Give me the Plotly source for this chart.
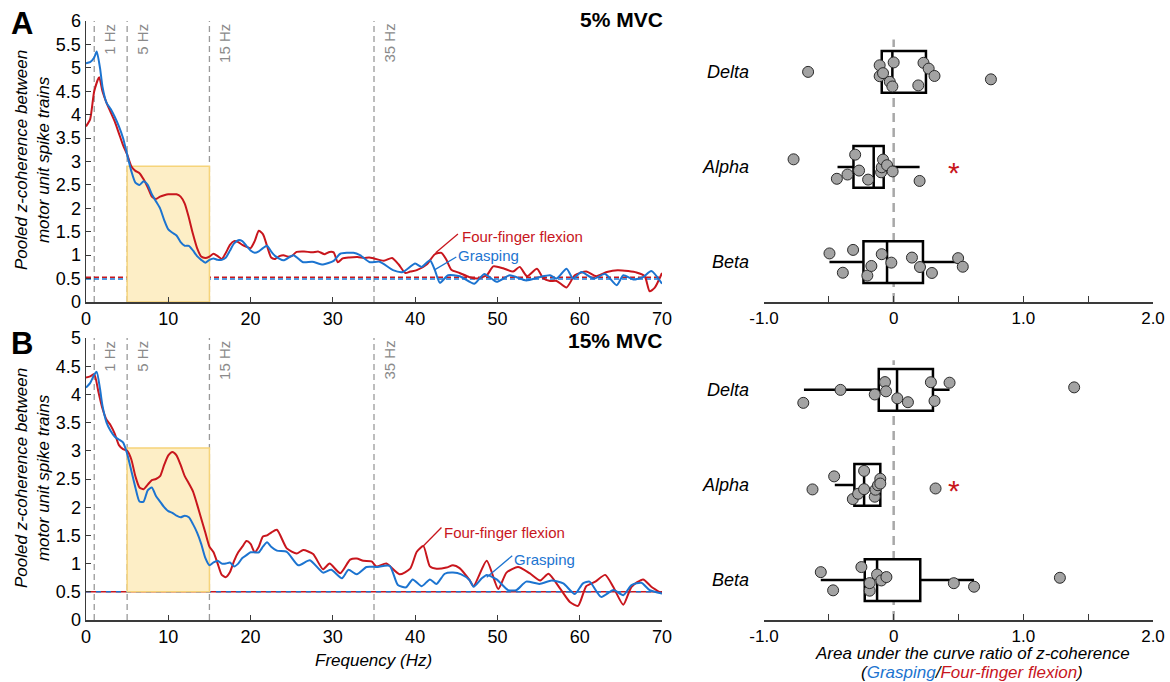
import plotly.graph_objects as go

W, H = 1170, 682

# ---------------- Panel A (5% MVC) : pooled z-coherence ----------------
freq_A_flex = [0, 0.5, 1, 1.6, 2, 2.5, 3, 3.5, 4, 4.5, 5, 5.5, 6, 6.5, 7, 7.5, 8, 8.5, 9, 9.5,
               10, 10.5, 11, 11.5, 12, 12.5, 13, 13.5, 14, 14.5, 15, 15.5, 16, 16.5, 17, 17.5,
               18, 18.5, 19, 19.5, 20, 20.5, 21, 21.5, 22, 22.5, 23, 23.5, 24, 24.5, 25, 25.6,
               26.5, 27.5, 28.2, 29, 29.6, 30.1, 30.6, 31.2, 32, 33, 33.8, 34.4, 35, 36.2, 37.2,
               38, 38.8, 39.4, 40.2, 41.4, 42.4, 43.2, 43.8, 44.4, 45.4, 46.6, 47.5, 48.7, 49.5,
               50.7, 51.9, 52.7, 53.6, 54.8, 55.6, 56.4, 57.2, 58.4, 59.4, 60.8, 62.0, 63.3,
               64.6, 65.9, 66.9, 67.9, 68.5, 69.1, 70]
coh_A_flex = [3.75, 3.9, 4.5, 4.8, 4.5, 4.25, 4.05, 3.85, 3.6, 3.35, 3.15, 2.9, 2.8, 2.75, 2.62,
              2.45, 2.25, 2.2, 2.25, 2.28, 2.3, 2.3, 2.3, 2.25, 2.1, 1.8, 1.45, 1.15, 0.97, 0.94,
              0.97, 1.03, 0.98, 0.92, 1.05, 1.22, 1.3, 1.28, 1.22, 1.18, 1.15, 1.3, 1.52, 1.45,
              1.2, 0.95, 0.92, 0.98, 1.0, 0.97, 0.98, 1.07, 1.08, 1.06, 1.08, 1.02, 1.07, 1.06,
              0.85, 0.93, 0.95, 0.96, 0.94, 0.95, 0.93, 0.88, 0.94, 0.8, 0.62, 0.65, 0.68, 0.8,
              1.02, 1.05, 0.9, 0.69, 0.62, 0.53, 0.5, 0.57, 0.76, 0.72, 0.65, 0.75, 0.55, 0.71,
              0.5, 0.45, 0.45, 0.31, 0.57, 0.65, 0.55, 0.64, 0.68, 0.66, 0.63, 0.55, 0.23, 0.3, 0.62]

freq_A_grasp = [0, 0.5, 1, 1.3, 1.7, 2, 2.5, 3, 3.5, 4, 4.5, 5, 5.5, 6, 6.5, 7, 7.5, 8, 8.5, 9,
                9.5, 10, 10.5, 11, 11.5, 12, 12.5, 13, 13.5, 14, 14.5, 15, 15.5, 16, 16.5, 17,
                17.5, 18, 18.5, 19, 19.5, 20, 20.5, 21, 21.5, 22, 22.5, 23, 24, 25.2, 26.4, 27.5,
                28.8, 30.1, 30.9, 32.5, 33.3, 34.5, 35.7, 37.3, 38.5, 40, 40.8, 41.8, 42.4, 43.0,
                44.0, 45.4, 47.2, 48.4, 49.9, 51.5, 53.5, 55.1, 56.4, 57.2, 58.4, 59.2, 60.2,
                61.7, 63.1, 64.5, 65.3, 66.5, 67.7, 68.7, 70]
coh_A_grasp = [5.1, 5.12, 5.22, 5.35, 5.0, 4.6, 4.25, 4.12, 3.95, 3.75, 3.5, 3.15, 2.8, 2.55, 2.5,
               2.58, 2.5, 2.3, 2.15, 2.0, 1.75, 1.55, 1.48, 1.42, 1.28, 1.2, 1.2, 1.1, 0.98, 0.9,
               0.84, 0.9, 0.93, 0.9, 0.9, 0.95, 1.1, 1.25, 1.32, 1.3, 1.2, 1.1, 1.05, 1.08, 1.15,
               1.2, 1.08, 0.98, 0.89, 1.0, 0.85, 0.86, 0.8, 0.88, 1.03, 1.05, 1.0, 0.85, 0.86,
               0.68, 0.64, 0.82, 0.75, 0.89, 0.68, 0.41, 0.57, 0.55, 0.39, 0.6, 0.43, 0.57, 0.46,
               0.53, 0.57, 0.5, 0.71, 0.5, 0.64, 0.5, 0.6, 0.36, 0.57, 0.48, 0.53, 0.66, 0.39]

# ---------------- Panel B (15% MVC) ----------------
freq_B_flex = [0, 0.5, 1, 1.5, 2, 2.5, 3, 3.5, 4, 4.5, 5, 5.5, 6, 6.5, 7, 7.5, 8, 8.5, 9, 9.5,
               10, 10.5, 11, 11.5, 12, 12.5, 13, 13.5, 14, 14.5, 15, 15.5, 16, 16.5, 17, 17.5,
               18, 18.5, 19, 19.5, 20, 20.5, 21, 21.5, 22, 22.5, 23.2, 24.4, 25.6, 26.4, 27.6,
               28.8, 29.6, 30.9, 32.1, 32.9, 33.7, 34.7, 35.3, 36.5, 38.1, 39.4, 40.2, 41.0,
               41.8, 42.6, 43.8, 44.6, 45.4, 46.6, 47.1, 48.7, 50.1, 51.1, 52.5, 53.9, 55.2,
               56.2, 57.6, 58.8, 59.8, 60.8, 61.9, 63.1, 64.1, 65.3, 66.3, 67.7, 68.7, 70]
coh_B_flex = [4.3, 4.32, 4.36, 4.05, 3.75, 3.55, 3.45, 3.3, 3.1, 3.03, 3.0, 2.85, 2.55, 2.35, 2.32,
              2.4, 2.48, 2.5, 2.55, 2.75, 2.92, 2.98, 2.92, 2.75, 2.55, 2.42, 2.28, 2.05, 1.8,
              1.55, 1.3, 1.2, 1.0, 0.8, 0.76, 0.85, 1.05, 1.2, 1.3, 1.4, 1.35, 1.2, 1.3, 1.48,
              1.5, 1.55, 1.6, 1.27, 1.18, 1.24, 1.17, 0.9, 1.0, 0.83, 1.07, 1.09, 1.05, 1.04,
              0.95, 1.0, 0.81, 0.91, 1.21, 1.31, 0.95, 0.91, 0.93, 0.97, 0.92, 0.71, 0.6, 1.05,
              0.55, 0.84, 0.94, 0.83, 0.7, 0.82, 0.56, 0.32, 0.25, 0.6, 0.68, 0.8, 0.58, 0.27,
              0.59, 0.72, 0.59, 0.47]

freq_B_grasp = [0, 0.5, 1, 1.3, 1.7, 2, 2.5, 3, 3.5, 4, 4.5, 5, 5.5, 6, 6.5, 7, 7.5, 8, 8.5, 9,
                9.5, 10, 10.5, 11, 11.5, 12, 12.5, 13, 13.5, 14, 14.5, 15, 15.5, 16, 16.5, 17,
                17.5, 18, 18.5, 19, 19.5, 20, 20.5, 21, 21.5, 22, 22.5, 23.2, 24.4, 25.8, 27.2,
                28.8, 29.8, 31.1, 31.9, 32.9, 34.1, 35.3, 36.9, 37.9, 38.9, 39.7, 40.8, 41.8,
                42.6, 43.6, 44.6, 45.6, 46.6, 47.1, 48.1, 48.7, 49.9, 51.3, 52.3, 53.5, 55.1,
                56.6, 58, 59.4, 60.4, 61.2, 62.6, 64.1, 65.3, 66.3, 67.5, 68.5, 70]
coh_B_grasp = [4.12, 4.2, 4.35, 4.4, 4.1, 3.8, 3.5, 3.35, 3.25, 3.2, 3.15, 2.95, 2.65, 2.35, 2.1,
               2.1, 2.3, 2.35, 2.2, 2.1, 2.0, 1.93, 1.9, 1.85, 1.82, 1.85, 1.82, 1.7, 1.55, 1.35,
               1.1, 0.97, 1.02, 1.05, 1.0, 1.0, 1.02, 0.95, 1.0, 1.1, 1.15, 1.2, 1.2, 1.2, 1.3,
               1.38, 1.3, 1.23, 1.21, 0.97, 1.06, 0.84, 0.89, 0.74, 0.89, 0.81, 0.94, 0.94, 0.96,
               0.62, 0.58, 0.72, 0.6, 0.72, 0.64, 0.82, 0.84, 0.81, 0.71, 0.59, 0.74, 0.8, 0.72,
               0.53, 0.53, 0.68, 0.64, 0.7, 0.65, 0.46, 0.65, 0.68, 0.41, 0.53, 0.44, 0.62, 0.66,
               0.53, 0.47]

# significance thresholds
sig_A_flex, sig_A_grasp = 0.53, 0.49
sig_B_flex, sig_B_grasp = 0.5, 0.5

# frequency band markers
band_edges_hz = [1, 5, 15, 35]
band_edge_labels = ["1 Hz", "5 Hz", "15 Hz", "35 Hz"]
alpha_band_hz = [5, 15]
alpha_shade_A = [0, 2.9]
alpha_shade_B = [0.5, 3.05]

# ---------------- AUC ratio box plots ----------------
bands = ["Delta", "Alpha", "Beta"]

auc5_delta = [-0.66, -0.108, -0.082, -0.01, -0.108, -0.03, 0.0, 0.19, 0.27, 0.23, 0.315, 0.75]
auc5_alpha = [-0.772, -0.297, -0.267, -0.092, -0.051, -0.197, -0.438, -0.356, -0.082, -0.008, -0.097, 0.2]
auc5_beta = [-0.495, -0.313, -0.172, 0.141, 0.295, 0.533, -0.392, -0.203, -0.092, -0.018, 0.203, 0.497]
q1_5 = [-0.092, -0.31, -0.233]
med_5 = [-0.01, -0.154, -0.051]
q3_5 = [0.249, -0.077, 0.226]
lo_5 = [-0.11, -0.433, -0.495]
hi_5 = [0.315, 0.2, 0.533]

auc15_delta = [-0.697, -0.41, -0.146, -0.067, 0.11, 0.287, 0.431, 0.028, -0.059, 0.315, 1.392]
auc15_alpha = [-0.626, -0.274, -0.315, -0.103, -0.228, -0.146, -0.459, -0.228, -0.103, -0.121, 0.323, -0.14]
auc15_beta = [-0.467, -0.185, -0.128, -0.056, 0.62, -0.562, -0.249, -0.185, -0.095, 0.464, 1.282]
q1_15 = [-0.115, -0.303, -0.223]
med_15 = [0.026, -0.228, -0.128]
q3_15 = [0.303, -0.103, 0.205]
lo_15 = [-0.692, -0.454, -0.562]
hi_15 = [0.431, -0.079, 0.62]

signif_band = "Alpha"
signif_x = 0.467

# ---------------- styling ----------------
RED = "#c8161d"
BLUE = "#1c74d0"
AX = "#3a3a3a"
FONT = "Liberation Sans, Arial, sans-serif"


def px_x(p):
    return p / W


def px_y(p):
    return 1 - p / H


fig = go.Figure()

# coherence curves
for xs, ys, col, ax in [
    (freq_A_flex, coh_A_flex, RED, ("x", "y")),
    (freq_A_grasp, coh_A_grasp, BLUE, ("x", "y")),
    (freq_B_flex, coh_B_flex, RED, ("x2", "y2")),
    (freq_B_grasp, coh_B_grasp, BLUE, ("x2", "y2")),
]:
    fig.add_trace(go.Scatter(x=xs, y=ys, mode="lines", xaxis=ax[0], yaxis=ax[1],
                             line=dict(color=col, width=2, shape="spline", smoothing=0.6),
                             showlegend=False, hoverinfo="skip"))

# box plots
BOXW = 0.44
for (pts, q1, med, q3, lo, hi, xa, ya) in [
    ((auc5_delta, auc5_alpha, auc5_beta), q1_5, med_5, q3_5, lo_5, hi_5, "x3", "y3"),
    ((auc15_delta, auc15_alpha, auc15_beta), q1_15, med_15, q3_15, lo_15, hi_15, "x4", "y4"),
]:
    fig.add_trace(go.Box(y=bands, q1=q1, median=med, q3=q3, lowerfence=lo, upperfence=hi,
                         orientation="h", width=BOXW, fillcolor="white",
                         line=dict(color="black", width=2.5), whiskerwidth=0,
                         boxpoints=False, xaxis=xa, yaxis=ya, showlegend=False,
                         hoverinfo="skip"))
    xs, ys = [], []
    for b, vals in zip(bands, pts):
        xs += list(vals)
        ys += [b] * len(vals)
    fig.add_trace(go.Box(x=xs, y=ys, orientation="h", width=BOXW, boxpoints="all",
                         jitter=0.8, pointpos=0, fillcolor="rgba(0,0,0,0)",
                         line=dict(color="rgba(0,0,0,0)", width=0),
                         marker=dict(color="#a3a3a3", size=11,
                                     line=dict(color="#2a2a2a", width=1)),
                         xaxis=xa, yaxis=ya, showlegend=False, hoverinfo="skip"))

shapes = []
annotations = []

for xa, ya, shade, sigs in [("x", "y", alpha_shade_A, (sig_A_flex, sig_A_grasp)),
                            ("x2", "y2", alpha_shade_B, (sig_B_flex, sig_B_grasp))]:
    shapes.append(dict(type="rect", xref=xa, yref=ya, x0=alpha_band_hz[0], x1=alpha_band_hz[1],
                       y0=shade[0], y1=shade[1], fillcolor="#fdeec6",
                       line=dict(color="#f6d47a", width=1.5), layer="below"))
    for f, lab in zip(band_edges_hz, band_edge_labels):
        shapes.append(dict(type="line", xref=xa, yref=ya + " domain", x0=f, x1=f, y0=0, y1=1,
                           line=dict(color="#9a9a9a", width=1.3, dash="6px,4px"), layer="below"))
        annotations.append(dict(x=f, y=1, xref=xa, yref=ya + " domain", text=lab,
                                textangle=-90, showarrow=False, xanchor="center",
                                yanchor="top", xshift=15, yshift=-1,
                                font=dict(size=15, color="#8a8a8a", family=FONT)))
    if sigs[0] == sigs[1]:
        shapes.append(dict(type="line", xref=xa + " domain", yref=ya, x0=0, x1=1,
                           y0=sigs[0], y1=sigs[0], line=dict(color=RED, width=1.6),
                           layer="below"))
        shapes.append(dict(type="line", xref=xa + " domain", yref=ya, x0=0, x1=1,
                           y0=sigs[1], y1=sigs[1],
                           line=dict(color=BLUE, width=1.6, dash="5px,5px"), layer="below"))
    else:
        shapes.append(dict(type="line", xref=xa + " domain", yref=ya, x0=0, x1=1,
                           y0=sigs[0], y1=sigs[0],
                           line=dict(color=RED, width=1.5, dash="5px,3px"), layer="below"))
        shapes.append(dict(type="line", xref=xa + " domain", yref=ya, x0=0, x1=1,
                           y0=sigs[1], y1=sigs[1],
                           line=dict(color=BLUE, width=1.5, dash="5px,3px"), layer="below"))

# zero lines on box plots
for xa, ya, top in [("x3", "y3", 0.965), ("x4", "y4", 0.955)]:
    shapes.append(dict(type="line", xref=xa, yref=ya + " domain", x0=0, x1=0, y0=0, y1=top,
                       line=dict(color="#a8a8a8", width=2.5, dash="9px,6px"), layer="below"))
    annotations.append(dict(x=signif_x, y=signif_band, xref=xa, yref=ya, text="*",
                            showarrow=False, xanchor="center", yanchor="middle", yshift=-6,
                            font=dict(size=30, color=RED, family=FONT)))

# curve labels with leader lines
lbl = [
    ("x", "y", "Four-finger flexion", RED, (45.4, 1.39), (42.5, 1.05), (45.2, 1.45)),
    ("x", "y", "Grasping", BLUE, (45.0, 1.0), (42.3, 0.68), (45.0, 0.96)),
    ("x2", "y2", "Four-finger flexion", RED, (43.3, 1.56), (40.9, 1.3), (43.2, 1.64)),
    ("x2", "y2", "Grasping", BLUE, (51.8, 1.07), (48.7, 0.76), (51.8, 1.14)),
]
for xa, ya, txt, col, tpos, l0, l1 in lbl:
    annotations.append(dict(x=tpos[0], y=tpos[1], xref=xa, yref=ya, text=txt,
                            showarrow=False, xanchor="left", yanchor="middle",
                            font=dict(size=15, color=col, family=FONT)))
    shapes.append(dict(type="line", xref=xa, yref=ya, x0=l0[0], y0=l0[1], x1=l1[0], y1=l1[1],
                       line=dict(color=col, width=1.3)))


def paper_text(px, py, text, size, xanchor="center", angle=0, color="black"):
    return dict(x=px_x(px), y=px_y(py), xref="paper", yref="paper", text=text,
                showarrow=False, xanchor=xanchor, yanchor="middle", textangle=angle,
                font=dict(size=size, color=color, family=FONT))


ylab = "<i>Pooled z-coherence between</i><br><i>motor unit spike trains</i>"
annotations += [
    paper_text(22, 24, "<b>A</b>", 31),
    paper_text(22, 343, "<b>B</b>", 31),
    paper_text(665, 20, "<b>5% MVC</b>", 21, xanchor="right"),
    paper_text(665, 340, "<b>15% MVC</b>", 21, xanchor="right"),
    paper_text(32, 160, ylab, 17, angle=-90),
    paper_text(32, 478, ylab, 17, angle=-90),
    paper_text(374, 660, "<i>Frequency (Hz)</i>", 17),
    paper_text(972, 653, "<i>Area under the curve ratio of z-coherence</i>", 17),
    paper_text(972, 672, ("<i>(<span style='color:%s'>Grasping</span>/"
                          "<span style='color:%s'>Four-finger flexion</span>)</i>") % (BLUE, RED), 17),
]

left_x = dict(range=[0, 70], tickvals=list(range(0, 71, 10)), ticks="inside", ticklen=5,
              tickcolor=AX, showline=True, linecolor=AX, linewidth=1.5, showgrid=False,
              zeroline=False, tickfont=dict(size=18, color="black", family=FONT),
              domain=[px_x(86), px_x(662)], automargin=False)
left_y = dict(ticks="inside", ticklen=5, tickcolor=AX, showline=True, linecolor=AX,
              linewidth=1.5, showgrid=False, zeroline=False, dtick=0.5, automargin=False,
              tickfont=dict(size=18, color="black", family=FONT))
right_x = dict(range=[-1, 2], tickvals=[-1, -0.5, 0, 0.5, 1, 1.5, 2],
               ticktext=["-1.0", "", "0", "", "1.0", "", "2.0"], ticks="inside", ticklen=6,
               tickcolor=AX, showline=True, linecolor=AX, linewidth=1.5, showgrid=False,
               zeroline=False, tickfont=dict(size=17, color="black", family=FONT),
               domain=[px_x(764), px_x(1153)], automargin=False)
right_y = dict(type="category", categoryorder="array", categoryarray=["Beta", "Alpha", "Delta"],
               range=[-0.42, 2.44], showline=False, ticks="", showgrid=False, zeroline=False,
               tickvals=bands, ticktext=["<i>%s</i>" % b for b in bands], ticklabelstandoff=14,
               automargin=False, tickfont=dict(size=18, color="black", family=FONT))

fig.update_layout(
    width=W, height=H, margin=dict(l=0, r=0, t=0, b=0, pad=0, autoexpand=False),
    paper_bgcolor="white", plot_bgcolor="white", boxmode="overlay", showlegend=False,
    font=dict(family=FONT, color="black"),
    xaxis=dict(left_x, anchor="y"),
    yaxis=dict(left_y, anchor="x", range=[0, 6], domain=[px_y(302), px_y(21)]),
    xaxis2=dict(left_x, anchor="y2"),
    yaxis2=dict(left_y, anchor="x2", range=[0, 5], domain=[px_y(620), px_y(338)]),
    xaxis3=dict(right_x, anchor="y3"),
    yaxis3=dict(right_y, anchor="x3", domain=[px_y(302), px_y(30)]),
    xaxis4=dict(right_x, anchor="y4"),
    yaxis4=dict(right_y, anchor="x4", domain=[px_y(620), px_y(348)]),
    shapes=shapes, annotations=annotations,
)

# remove the browser's default page margin so the 1170x682 figure fills the window exactly
fig.write_html("out.html",
               config={"displayModeBar": False, "staticPlot": True},
               post_script="document.body.style.margin='0px';"
                           "document.body.style.overflow='hidden';")
